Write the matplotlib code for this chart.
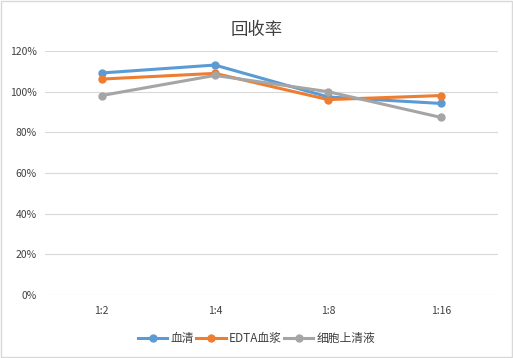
import matplotlib.pyplot as plt
from matplotlib.ticker import PercentFormatter

plt.rcParams['font.family'] = ['Noto Sans CJK SC', 'DejaVu Sans']

ratios = ['1:2', '1:4', '1:8', '1:16']
serum = [109.2, 113.1, 97.4, 94.2]
edta_plasma = [106.2, 109.0, 96.1, 98.1]
supernatant = [98.1, 108.0, 100.0, 87.3]

fig = plt.figure(figsize=(5.13, 3.58), dpi=100)
fig.patches.append(plt.Rectangle((0.002, 0.003), 0.996, 0.994, transform=fig.transFigure,
                                 fill=False, edgecolor='#d9d9d9', linewidth=1))
ax = fig.add_axes([0.0877, 0.176, 0.883, 0.6815])

x = range(len(ratios))
ax.plot(x, serum, color='#5b9bd5', marker='o', markersize=5, linewidth=2.2, label='血清')
ax.plot(x, edta_plasma, color='#ed7d31', marker='o', markersize=5, linewidth=2.2, label='EDTA血浆')
ax.plot(x, supernatant, color='#a5a5a5', marker='o', markersize=5, linewidth=2.2, label='细胞上清液')

ax.set_xlim(-0.5, 3.5)
ax.set_ylim(0, 120)
ax.set_yticks(range(0, 121, 20))
ax.yaxis.set_major_formatter(PercentFormatter(decimals=0))
ax.set_xticks(list(x))
ax.set_xticklabels(ratios)
ax.grid(axis='y', color='#d9d9d9', linewidth=0.8)
ax.set_axisbelow(True)
for s in ax.spines.values():
    s.set_visible(False)
ax.tick_params(length=0, labelsize=7.5, colors='#404040', pad=8)
ax.tick_params(axis='y', pad=6)

fig.text(0.5, 0.915, '回收率', ha='center', va='center', fontsize=12.5, color='#404040',
         fontweight='light')
# legend centred on the figure, not the axes
fig.legend(*ax.get_legend_handles_labels(), loc='center', bbox_to_anchor=(0.5, 0.055),
           ncol=3, frameon=False, fontsize=8.5, handlelength=2.5, columnspacing=0.2,
           handletextpad=0.25, labelcolor='#404040')

fig.savefig('out.png', dpi=100)
